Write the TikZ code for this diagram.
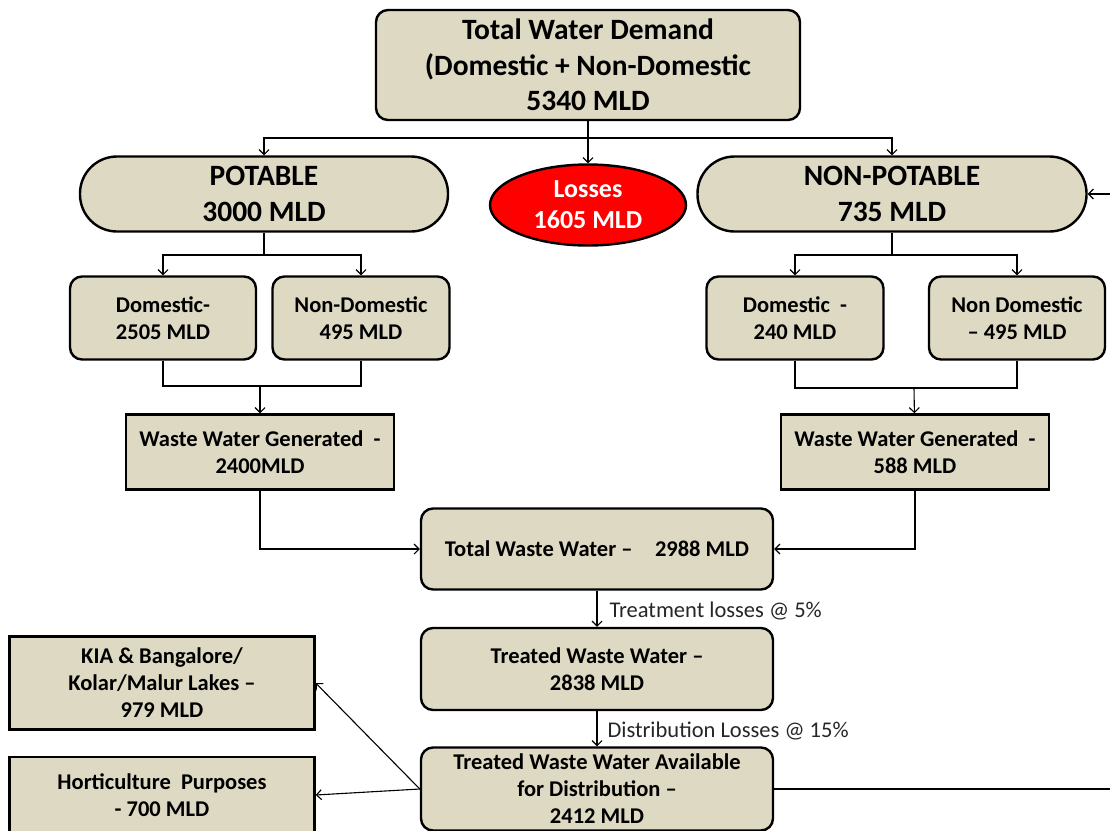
\documentclass[tikz,border=0pt]{standalone}
\usepackage{fontspec}
\setmainfont{Carlito}
\usepackage{tikz}
\usetikzlibrary{shapes.geometric,arrows.meta}

\definecolor{tan}{HTML}{DDD9C3}
\definecolor{lossred}{HTML}{FF0000}

\begin{document}
\begin{tikzpicture}[x=1pt, y=-1pt, every node/.style={font=\bfseries}]
  \tikzstyle{box} = [rectangle, rounded corners=12pt, draw=black, line width=2.4pt, fill=tan,
                     align=center, inner sep=0pt]
  \tikzstyle{plainbox} = [rectangle, draw=black, line width=2.4pt, fill=tan, align=center, inner sep=0pt]
  \tikzstyle{pill} = [rectangle, rounded corners=37pt, draw=black, line width=2.4pt, fill=tan,
                      align=center, inner sep=0pt]
  \tikzstyle{big} = [font=\bfseries\fontsize{29.5}{35.5}\selectfont]
  \tikzstyle{small} = [font=\bfseries\fontsize{22.5}{27}\selectfont]
  \tikzstyle{lbl} = [font=\fontsize{22.5}{26}\selectfont, text=black!85, inner sep=2pt]
  \tikzstyle{line} = [line width=1.1pt]
  \tikzstyle{arrow} = [line width=1.1pt, ->, >={Straight Barb[length=5pt,width=10pt]}]
  \useasboundingbox (0,0) rectangle (1110,830);
  \clip (0,0) rectangle (1110,830);
  % demand split
  \node (total) [box, big, minimum width=424pt, minimum height=110pt] at (588,65)
    {Total Water Demand\\(Domestic + Non-Domestic\\5340 MLD};
  \node (potable) [pill, big, minimum width=368pt, minimum height=75pt] at (264,194) {POTABLE\\3000 MLD};
  \node (losses) [ellipse, draw=black, line width=2.4pt, fill=lossred, text=white, align=center, inner sep=0pt,
                  font=\bfseries\fontsize{26}{31}\selectfont, minimum width=196pt, minimum height=81pt] at (588,205)
    {Losses\\1605 MLD};
  \node (nonpot) [pill, big, minimum width=389pt, minimum height=75pt] at (892,194) {NON-POTABLE\\735 MLD};
  \coordinate (split1) at (588,138);
  \draw [line] (total) -- (split1);
  \draw [arrow] (split1) -| (potable);
  \draw [arrow] (split1) -- (losses);
  \draw [arrow] (split1) -| (nonpot);
  % potable side
  \node (dom1) [box, small, minimum width=186pt, minimum height=83pt] at (163,318) {Domestic-\\2505 MLD};
  \node (ndom1) [box, small, minimum width=177pt, minimum height=83pt] at (361,318) {Non-Domestic\\495 MLD};
  \node (wwg1) [plainbox, small, minimum width=268pt, minimum height=75pt] at (260,452)
    {Waste Water Generated\ \ -\\2400MLD};
  \coordinate (split2) at (264,255);
  \coordinate (join1) at (260,386);
  \draw [line] (potable) -- (split2);
  \draw [arrow] (split2) -| (dom1);
  \draw [arrow] (split2) -| (ndom1);
  \draw [line] (dom1) |- (join1);
  \draw [line] (ndom1) |- (join1);
  \draw [arrow] (join1) -- (wwg1);
  % non-potable side
  \node (dom2) [box, small, minimum width=177pt, minimum height=83pt] at (795,318) {Domestic\ \ -\\240 MLD};
  \node (ndom2) [box, small, minimum width=176pt, minimum height=83pt] at (1017,318) {Non Domestic\\-- 495 MLD};
  \node (wwg2) [plainbox, small, minimum width=268pt, minimum height=75pt] at (915,452)
    {Waste Water Generated\ \ -\\588 MLD};
  \coordinate (split3) at (892,255);
  \coordinate (join2) at (914,388);
  \draw [line] (nonpot) -- (split3);
  \draw [arrow] (split3) -| (dom2);
  \draw [arrow] (split3) -| (ndom2);
  \draw [line] (dom2) |- (join2);
  \draw [line] (ndom2) |- (join2);
  \draw [arrow] (join2) -- (wwg2);
  % treatment chain
  \node (tww) [box, small, minimum width=352pt, minimum height=81pt] at (597,549)
    {Total Waste Water --\quad 2988 MLD};
  \node (treated) [box, small, minimum width=352pt, minimum height=82pt] at (597,669)
    {Treated Waste Water --\\2838 MLD};
  \node (dist) [box, small, minimum width=352pt, minimum height=83pt] at (597,789)
    {Treated Waste Water Available\\for Distribution --\\2412 MLD};
  \draw [arrow] (wwg1) |- (tww);
  \draw [arrow] (wwg2) |- (tww);
  \draw [arrow] (tww) -- node[lbl, right=10pt, yshift=-2pt] {Treatment losses @ 5\%} (treated);
  \draw [arrow] (treated) -- node[lbl, right=8pt, yshift=-2pt] {Distribution Losses @ 15\%} (dist);
  % reuse
  \node (kia) [plainbox, small, minimum width=305pt, minimum height=93pt] at (162,683)
    {KIA \& Bangalore/\\Kolar/Malur Lakes --\\979 MLD};
  \node (hort) [plainbox, small, minimum width=305pt, minimum height=76pt] at (162,795)
    {Horticulture\ \ Purposes\\- 700 MLD};
  \draw [arrow] (dist.west) -- (kia.east);
  \draw [arrow] (dist.west) -- (hort.east);
  \coordinate (loop) at (1130,194);
  \draw [arrow] (dist.east) -| (loop) -- (nonpot.east);
\end{tikzpicture}
\end{document}
